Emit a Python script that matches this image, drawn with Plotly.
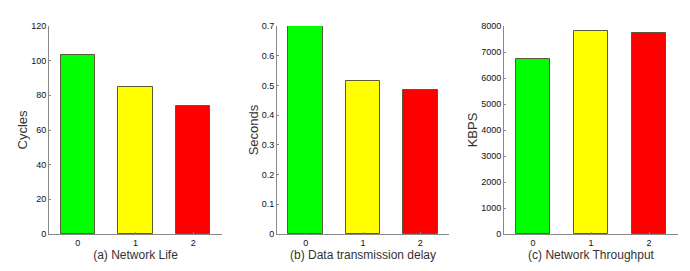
import plotly.graph_objects as go

categories = ["0", "1", "2"]
network_life = [103, 85, 74]
delay = [0.70, 0.516, 0.485]
throughput = [6720, 7790, 7720]
bar_colors = ["#00ff00", "#ffff00", "#ff0000"]

titles_x = ["(a) Network Life", "(b) Data transmission delay", "(c) Network Throughput"]
titles_y = ["Cycles", "Seconds", "KBPS"]
y_ranges = [[0, 120], [0, 0.7], [0, 8000]]
y_dticks = [20, 0.1, 1000]

W, H = 690, 271
x_px = [(49, 222), (277, 449), (504, 678)]
y_dom = [(271 - 234) / 271, (271 - 26) / 271]

fig = go.Figure()
series = [network_life, delay, throughput]
for i, vals in enumerate(series):
    xa = "x" if i == 0 else f"x{i+1}"
    ya = "y" if i == 0 else f"y{i+1}"
    fig.add_trace(go.Bar(
        x=[0, 1, 2], y=vals, xaxis=xa, yaxis=ya,
        width=0.6,
        marker=dict(color=bar_colors, line=dict(color="#5a5a3a", width=1)),
        showlegend=False,
    ))

axis_font = dict(family="Liberation Sans, Arial", size=9, color="#111")
for i in range(3):
    xk = "xaxis" if i == 0 else f"xaxis{i+1}"
    yk = "yaxis" if i == 0 else f"yaxis{i+1}"
    fig.layout[xk] = dict(
        domain=[x_px[i][0] / W, x_px[i][1] / W],
        range=[-0.5, 2.5], tickvals=[0, 1, 2], ticktext=categories,
        showline=True, linecolor="#888", linewidth=1, mirror=False,
        showgrid=False, zeroline=False, ticks="inside", ticklen=2, tickcolor="#888",
        tickfont=axis_font, automargin=False,
        title=dict(text=titles_x[i], font=dict(family="Liberation Sans, Arial", size=12, color="#333"), standoff=0),
        anchor="y" if i == 0 else f"y{i+1}",
    )
    fig.layout[yk] = dict(
        domain=list(y_dom),
        range=y_ranges[i], dtick=y_dticks[i],
        showline=True, linecolor="#888", linewidth=1,
        showgrid=False, zeroline=False, ticks="inside", ticklen=2, tickcolor="#888",
        tickfont=axis_font, automargin=False,
        title=dict(text=titles_y[i], font=dict(family="Liberation Sans, Arial", size=13, color="#333"), standoff=0),
        anchor="x" if i == 0 else f"x{i+1}",
    )

fig.update_layout(
    width=W, height=H,
    margin=dict(l=0, r=0, t=0, b=0),
    paper_bgcolor="white", plot_bgcolor="white",
    bargap=0,
)
fig.write_html("out.html", config={"displayModeBar": False},
               post_script="document.body.style.margin='0';document.body.style.overflow='hidden';")
